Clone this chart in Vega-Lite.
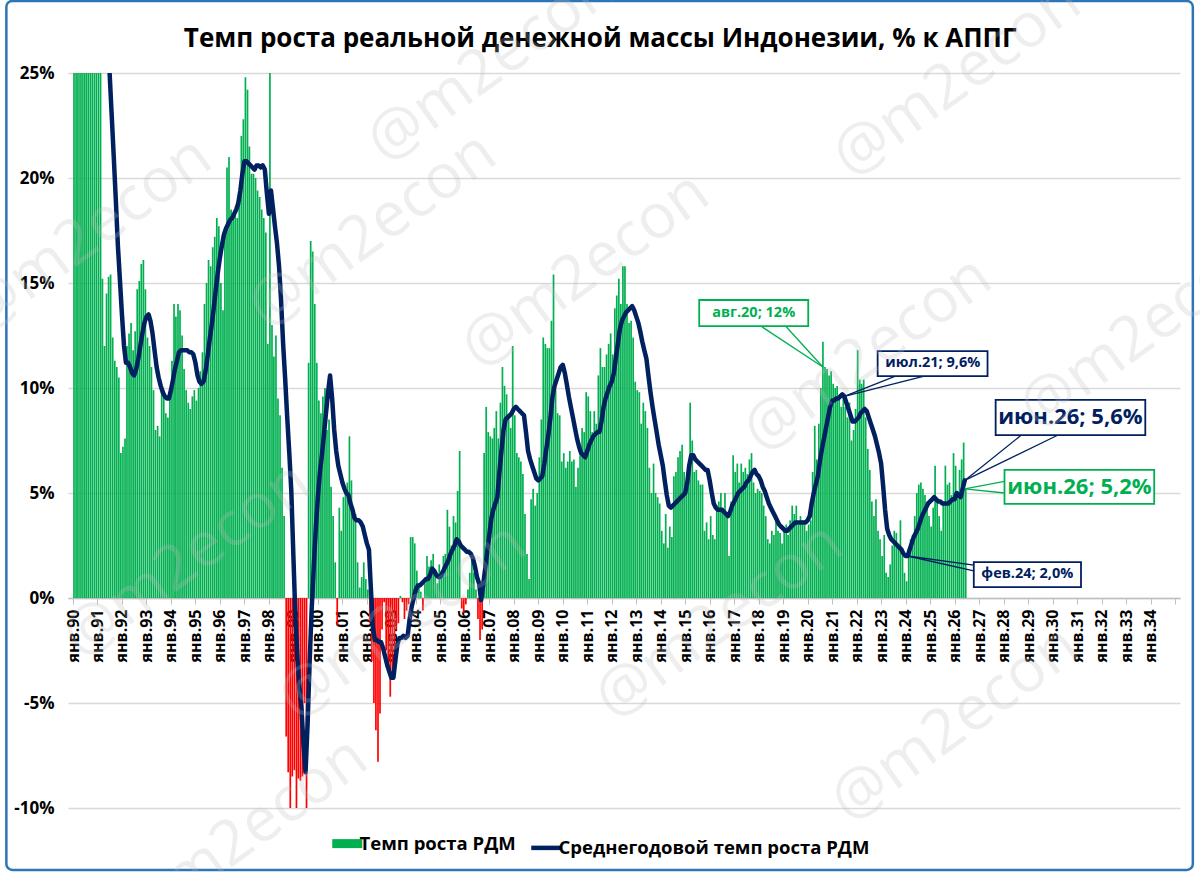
{
  "$schema": "https://vega.github.io/schema/vega-lite/v6.json",
  "width": 1112,
  "height": 735,
  "autosize": {"type": "none"},
  "padding": {"left": 68, "top": 73, "right": 20, "bottom": 64},
  "background": "white",
  "datasets": {
    "rdm": [
      {"d":"1990-01","b":38,"l":45},{"d":"1990-02","b":42,"l":45},{"d":"1990-03","b":36,"l":44},{"d":"1990-04","b":45,"l":43},{"d":"1990-05","b":40,"l":42},{"d":"1990-06","b":47,"l":41},
      {"d":"1990-07","b":43,"l":40},{"d":"1990-08","b":39,"l":39},{"d":"1990-09","b":44,"l":38},{"d":"1990-10","b":41,"l":37},{"d":"1990-11","b":37,"l":36},{"d":"1990-12","b":35,"l":34.5},
      {"d":"1991-01","b":33,"l":33},{"d":"1991-02","b":30,"l":32},{"d":"1991-03","b":15.2,"l":30.5},{"d":"1991-04","b":12.0,"l":29},{"d":"1991-05","b":14.5,"l":27.5},{"d":"1991-06","b":15.3,"l":26},
      {"d":"1991-07","b":15.4,"l":25},{"d":"1991-08","b":12.4,"l":23},{"d":"1991-09","b":11.3,"l":21},{"d":"1991-10","b":11.0,"l":19},{"d":"1991-11","b":10.5,"l":16.8},{"d":"1991-12","b":6.9,"l":15.2},
      {"d":"1992-01","b":7.2,"l":13.5},{"d":"1992-02","b":7.6,"l":12.0},{"d":"1992-03","b":12.0,"l":11.2},{"d":"1992-04","b":12.6,"l":11.2},{"d":"1992-05","b":13.1,"l":11.0},{"d":"1992-06","b":11.8,"l":10.7},
      {"d":"1992-07","b":12.7,"l":10.6},{"d":"1992-08","b":14.7,"l":10.9},{"d":"1992-09","b":15.1,"l":11.4},{"d":"1992-10","b":15.9,"l":12.0},{"d":"1992-11","b":16.1,"l":12.6},{"d":"1992-12","b":14.7,"l":13.1},
      {"d":"1993-01","b":12.4,"l":13.4},{"d":"1993-02","b":12.0,"l":13.5},{"d":"1993-03","b":11.0,"l":13.2},{"d":"1993-04","b":9.9,"l":12.6},{"d":"1993-05","b":8.0,"l":11.8},{"d":"1993-06","b":8.2,"l":11.0},
      {"d":"1993-07","b":7.7,"l":10.5},{"d":"1993-08","b":10.0,"l":10.1},{"d":"1993-09","b":9.9,"l":9.8},{"d":"1993-10","b":8.8,"l":9.6},{"d":"1993-11","b":8.6,"l":9.5},{"d":"1993-12","b":9.5,"l":9.5},
      {"d":"1994-01","b":11.3,"l":9.9},{"d":"1994-02","b":14.0,"l":10.4},{"d":"1994-03","b":13.4,"l":10.9},{"d":"1994-04","b":14.0,"l":11.3},{"d":"1994-05","b":13.7,"l":11.7},{"d":"1994-06","b":12.5,"l":11.8},
      {"d":"1994-07","b":10.9,"l":11.8},{"d":"1994-08","b":9.9,"l":11.8},{"d":"1994-09","b":9.3,"l":11.8},{"d":"1994-10","b":9.0,"l":11.7},{"d":"1994-11","b":9.6,"l":11.7},{"d":"1994-12","b":9.9,"l":11.6},
      {"d":"1995-01","b":9.4,"l":11.2},{"d":"1995-02","b":10.0,"l":10.6},{"d":"1995-03","b":10.8,"l":10.3},{"d":"1995-04","b":11.7,"l":10.2},{"d":"1995-05","b":14.0,"l":10.3},{"d":"1995-06","b":15.0,"l":10.8},
      {"d":"1995-07","b":16.1,"l":11.5},{"d":"1995-08","b":15.8,"l":12.3},{"d":"1995-09","b":16.7,"l":13.0},{"d":"1995-10","b":17.2,"l":13.8},{"d":"1995-11","b":18.1,"l":14.7},{"d":"1995-12","b":17.7,"l":15.5},
      {"d":"1996-01","b":15.0,"l":16.2},{"d":"1996-02","b":13.7,"l":16.8},{"d":"1996-03","b":17.5,"l":17.3},{"d":"1996-04","b":20.5,"l":17.6},{"d":"1996-05","b":21.0,"l":17.8},{"d":"1996-06","b":18.5,"l":18.0},
      {"d":"1996-07","b":18.1,"l":18.1},{"d":"1996-08","b":18.3,"l":18.3},{"d":"1996-09","b":18.1,"l":18.5},{"d":"1996-10","b":19.4,"l":18.8},{"d":"1996-11","b":22.0,"l":19.4},{"d":"1996-12","b":22.8,"l":20.2},
      {"d":"1997-01","b":24.8,"l":20.8},{"d":"1997-02","b":24.2,"l":20.8},{"d":"1997-03","b":21.5,"l":20.7},{"d":"1997-04","b":20.2,"l":20.6},{"d":"1997-05","b":20.2,"l":20.5},{"d":"1997-06","b":20.0,"l":20.4},
      {"d":"1997-07","b":19.4,"l":20.6},{"d":"1997-08","b":19.1,"l":20.6},{"d":"1997-09","b":18.5,"l":20.5},{"d":"1997-10","b":18.1,"l":20.6},{"d":"1997-11","b":17.4,"l":20.4},{"d":"1997-12","b":12.1,"l":19.3},
      {"d":"1998-01","b":25.5,"l":18.3},{"d":"1998-02","b":13.0,"l":19.4},{"d":"1998-03","b":11.5,"l":18.6},{"d":"1998-04","b":12.5,"l":17.7},{"d":"1998-05","b":9.5,"l":16.9},{"d":"1998-06","b":8.7,"l":15.8},
      {"d":"1998-07","b":6.2,"l":14.2},{"d":"1998-08","b":3.9,"l":12.1},{"d":"1998-09","b":-6.6,"l":10.4},{"d":"1998-10","b":-8.3,"l":8.6},{"d":"1998-11","b":-12,"l":6.9},{"d":"1998-12","b":-8.5,"l":5.1},
      {"d":"1999-01","b":-8.2,"l":2.0},{"d":"1999-02","b":-13,"l":-1.0},{"d":"1999-03","b":-8.6,"l":-2.8},{"d":"1999-04","b":-8.7,"l":-4.3},{"d":"1999-05","b":-8.5,"l":-5.2},{"d":"1999-06","b":-5.0,"l":-7.0},
      {"d":"1999-07","b":-13,"l":-8.3},{"d":"1999-08","b":11.2,"l":-6.0},{"d":"1999-09","b":17.0,"l":-3.0},{"d":"1999-10","b":16.5,"l":-0.5},{"d":"1999-11","b":14.0,"l":1.5},{"d":"1999-12","b":11.2,"l":3.3},
      {"d":"2000-01","b":9.4,"l":4.8},{"d":"2000-02","b":8.8,"l":6.0},{"d":"2000-03","b":9.6,"l":6.8},{"d":"2000-04","b":10.0,"l":7.8},{"d":"2000-05","b":8.0,"l":8.8},{"d":"2000-06","b":8.5,"l":9.8},
      {"d":"2000-07","b":5.3,"l":10.6},{"d":"2000-08","b":3.9,"l":9.5},{"d":"2000-09","b":1.7,"l":8.0},{"d":"2000-10","b":-1.3,"l":7.0},{"d":"2000-11","b":4.3,"l":6.3},{"d":"2000-12","b":3.2,"l":5.9},
      {"d":"2001-01","b":4.8,"l":5.5},{"d":"2001-02","b":5.1,"l":5.2},{"d":"2001-03","b":5.5,"l":5.0},{"d":"2001-04","b":7.7,"l":4.9},{"d":"2001-05","b":5.6,"l":4.5},{"d":"2001-06","b":4.2,"l":4.2},
      {"d":"2001-07","b":4.0,"l":3.8},{"d":"2001-08","b":1.7,"l":3.7},{"d":"2001-09","b":0.5,"l":3.7},{"d":"2001-10","b":1.0,"l":3.6},{"d":"2001-11","b":1.7,"l":3.4},{"d":"2001-12","b":0.9,"l":3.0},
      {"d":"2002-01","b":0.4,"l":2.6},{"d":"2002-02","b":-1.2,"l":2.3},{"d":"2002-03","b":-3.0,"l":0.5},{"d":"2002-04","b":-5.0,"l":-1.4},{"d":"2002-05","b":-6.3,"l":-2.0},{"d":"2002-06","b":-7.8,"l":-2.0},
      {"d":"2002-07","b":-5.5,"l":-2.1},{"d":"2002-08","b":-1.5,"l":-2.1},{"d":"2002-09","b":-0.2,"l":-2.4},{"d":"2002-10","b":-2.5,"l":-2.8},{"d":"2002-11","b":-3.3,"l":-3.2},{"d":"2002-12","b":-4.7,"l":-3.5},
      {"d":"2003-01","b":-3.9,"l":-3.8},{"d":"2003-02","b":-3.0,"l":-3.8},{"d":"2003-03","b":-1.5,"l":-3.0},{"d":"2003-04","b":-1.2,"l":-2.2},{"d":"2003-05","b":0.1,"l":-1.9},{"d":"2003-06","b":-0.2,"l":-1.9},
      {"d":"2003-07","b":-1.0,"l":-1.8},{"d":"2003-08","b":-0.6,"l":-1.9},{"d":"2003-09","b":-0.3,"l":-1.8},{"d":"2003-10","b":2.9,"l":-1.0},{"d":"2003-11","b":2.9,"l":-0.4},{"d":"2003-12","b":2.6,"l":0.0},
      {"d":"2004-01","b":1.3,"l":0.4},{"d":"2004-02","b":0.7,"l":0.6},{"d":"2004-03","b":0.3,"l":0.6},{"d":"2004-04","b":-0.6,"l":0.7},{"d":"2004-05","b":0.7,"l":0.8},{"d":"2004-06","b":2.0,"l":0.9},
      {"d":"2004-07","b":1.5,"l":0.9},{"d":"2004-08","b":1.8,"l":1.1},{"d":"2004-09","b":2.1,"l":1.4},{"d":"2004-10","b":1.3,"l":1.3},{"d":"2004-11","b":0.7,"l":1.1},{"d":"2004-12","b":1.6,"l":1.0},
      {"d":"2005-01","b":1.3,"l":1.0},{"d":"2005-02","b":2.0,"l":1.2},{"d":"2005-03","b":2.1,"l":1.4},{"d":"2005-04","b":4.2,"l":1.6},{"d":"2005-05","b":3.4,"l":1.8},{"d":"2005-06","b":2.5,"l":2.1},
      {"d":"2005-07","b":3.9,"l":2.3},{"d":"2005-08","b":3.6,"l":2.5},{"d":"2005-09","b":5.1,"l":2.8},{"d":"2005-10","b":7.0,"l":2.7},{"d":"2005-11","b":-0.5,"l":2.5},{"d":"2005-12","b":-0.7,"l":2.4},
      {"d":"2006-01","b":-0.3,"l":2.3},{"d":"2006-02","b":0.4,"l":2.2},{"d":"2006-03","b":1.2,"l":2.2},{"d":"2006-04","b":2.0,"l":2.1},{"d":"2006-05","b":1.2,"l":1.9},{"d":"2006-06","b":0.4,"l":1.5},
      {"d":"2006-07","b":-1.0,"l":1.0},{"d":"2006-08","b":-2.0,"l":0.7},{"d":"2006-09","b":-1.5,"l":-0.1},{"d":"2006-10","b":6.9,"l":0.6},{"d":"2006-11","b":9.1,"l":1.4},{"d":"2006-12","b":7.9,"l":2.2},
      {"d":"2007-01","b":7.7,"l":3.0},{"d":"2007-02","b":7.6,"l":3.8},{"d":"2007-03","b":8.1,"l":4.2},{"d":"2007-04","b":8.9,"l":4.5},{"d":"2007-05","b":7.6,"l":4.8},{"d":"2007-06","b":9.3,"l":6.0},
      {"d":"2007-07","b":11.0,"l":7.0},{"d":"2007-08","b":10.1,"l":8.0},{"d":"2007-09","b":9.7,"l":8.5},{"d":"2007-10","b":8.7,"l":8.6},{"d":"2007-11","b":8.1,"l":8.7},{"d":"2007-12","b":12.0,"l":8.8},
      {"d":"2008-01","b":8.7,"l":9.0},{"d":"2008-02","b":6.9,"l":9.1},{"d":"2008-03","b":6.7,"l":9.0},{"d":"2008-04","b":6.5,"l":8.9},{"d":"2008-05","b":5.9,"l":8.8},{"d":"2008-06","b":4.0,"l":8.7},
      {"d":"2008-07","b":2.1,"l":7.9},{"d":"2008-08","b":0.9,"l":7.0},{"d":"2008-09","b":4.7,"l":6.6},{"d":"2008-10","b":5.2,"l":6.3},{"d":"2008-11","b":4.4,"l":6.0},{"d":"2008-12","b":5.0,"l":5.7},
      {"d":"2009-01","b":6.7,"l":5.6},{"d":"2009-02","b":8.5,"l":5.7},{"d":"2009-03","b":12.4,"l":5.8},{"d":"2009-04","b":12.1,"l":6.4},{"d":"2009-05","b":11.9,"l":7.1},{"d":"2009-06","b":11.9,"l":7.8},
      {"d":"2009-07","b":13.2,"l":8.6},{"d":"2009-08","b":15.4,"l":9.6},{"d":"2009-09","b":9.9,"l":10.1},{"d":"2009-10","b":8.8,"l":10.4},{"d":"2009-11","b":8.7,"l":10.7},{"d":"2009-12","b":6.5,"l":11.0},
      {"d":"2010-01","b":6.9,"l":11.1},{"d":"2010-02","b":6.2,"l":10.7},{"d":"2010-03","b":6.5,"l":10.2},{"d":"2010-04","b":7.0,"l":9.6},{"d":"2010-05","b":6.5,"l":9.1},{"d":"2010-06","b":6.6,"l":8.6},
      {"d":"2010-07","b":5.3,"l":8.1},{"d":"2010-08","b":6.2,"l":7.6},{"d":"2010-09","b":6.8,"l":7.2},{"d":"2010-10","b":8.1,"l":6.9},{"d":"2010-11","b":7.9,"l":6.8},{"d":"2010-12","b":9.8,"l":6.7},
      {"d":"2011-01","b":9.6,"l":7.0},{"d":"2011-02","b":8.9,"l":7.3},{"d":"2011-03","b":7.9,"l":7.5},{"d":"2011-04","b":8.9,"l":7.7},{"d":"2011-05","b":8.3,"l":7.8},{"d":"2011-06","b":10.6,"l":7.9},
      {"d":"2011-07","b":11.9,"l":7.9},{"d":"2011-08","b":11.0,"l":8.4},{"d":"2011-09","b":11.0,"l":9.1},{"d":"2011-10","b":11.6,"l":9.5},{"d":"2011-11","b":12.1,"l":9.8},{"d":"2011-12","b":12.6,"l":10.1},
      {"d":"2012-01","b":11.6,"l":10.3},{"d":"2012-02","b":13.8,"l":10.7},{"d":"2012-03","b":14.4,"l":11.4},{"d":"2012-04","b":15.2,"l":12.1},{"d":"2012-05","b":14.0,"l":12.8},{"d":"2012-06","b":15.8,"l":13.2},
      {"d":"2012-07","b":15.8,"l":13.4},{"d":"2012-08","b":14.0,"l":13.6},{"d":"2012-09","b":13.1,"l":13.7},{"d":"2012-10","b":13.2,"l":13.8},{"d":"2012-11","b":12.4,"l":13.9},{"d":"2012-12","b":10.3,"l":13.7},
      {"d":"2013-01","b":9.9,"l":13.4},{"d":"2013-02","b":9.8,"l":13.1},{"d":"2013-03","b":8.3,"l":12.7},{"d":"2013-04","b":9.3,"l":12.2},{"d":"2013-05","b":8.9,"l":11.8},{"d":"2013-06","b":8.1,"l":11.4},
      {"d":"2013-07","b":6.2,"l":10.6},{"d":"2013-08","b":5.0,"l":9.8},{"d":"2013-09","b":6.4,"l":9.1},{"d":"2013-10","b":5.0,"l":8.5},{"d":"2013-11","b":4.8,"l":7.9},{"d":"2013-12","b":4.5,"l":7.3},
      {"d":"2014-01","b":3.2,"l":6.8},{"d":"2014-02","b":2.6,"l":6.3},{"d":"2014-03","b":4.0,"l":5.6},{"d":"2014-04","b":2.4,"l":4.9},{"d":"2014-05","b":3.4,"l":4.4},{"d":"2014-06","b":2.9,"l":4.3},
      {"d":"2014-07","b":5.8,"l":4.4},{"d":"2014-08","b":6.0,"l":4.5},{"d":"2014-09","b":6.7,"l":4.6},{"d":"2014-10","b":7.0,"l":4.7},{"d":"2014-11","b":7.3,"l":4.8},{"d":"2014-12","b":6.0,"l":4.9},
      {"d":"2015-01","b":5.0,"l":5.0},{"d":"2015-02","b":5.3,"l":5.5},{"d":"2015-03","b":9.3,"l":6.3},{"d":"2015-04","b":7.5,"l":6.8},{"d":"2015-05","b":6.0,"l":6.8},{"d":"2015-06","b":6.1,"l":6.6},
      {"d":"2015-07","b":5.6,"l":6.5},{"d":"2015-08","b":5.4,"l":6.4},{"d":"2015-09","b":5.4,"l":6.3},{"d":"2015-10","b":3.2,"l":6.2},{"d":"2015-11","b":3.6,"l":6.1},{"d":"2015-12","b":2.8,"l":6.1},
      {"d":"2016-01","b":3.9,"l":5.6},{"d":"2016-02","b":3.0,"l":5.0},{"d":"2016-03","b":2.8,"l":4.5},{"d":"2016-04","b":4.4,"l":4.3},{"d":"2016-05","b":4.6,"l":4.2},{"d":"2016-06","b":5.0,"l":4.2},
      {"d":"2016-07","b":4.3,"l":4.2},{"d":"2016-08","b":5.0,"l":4.1},{"d":"2016-09","b":3.9,"l":4.0},{"d":"2016-10","b":2.0,"l":3.9},{"d":"2016-11","b":4.6,"l":4.1},{"d":"2016-12","b":6.8,"l":4.4},
      {"d":"2017-01","b":6.0,"l":4.6},{"d":"2017-02","b":6.4,"l":4.8},{"d":"2017-03","b":5.5,"l":5.0},{"d":"2017-04","b":6.4,"l":5.1},{"d":"2017-05","b":6.0,"l":5.2},{"d":"2017-06","b":6.2,"l":5.3},
      {"d":"2017-07","b":5.9,"l":5.5},{"d":"2017-08","b":6.6,"l":5.6},{"d":"2017-09","b":6.9,"l":5.8},{"d":"2017-10","b":5.5,"l":6.0},{"d":"2017-11","b":5.0,"l":6.1},{"d":"2017-12","b":5.2,"l":5.9},
      {"d":"2018-01","b":5.1,"l":5.8},{"d":"2018-02","b":5.0,"l":5.6},{"d":"2018-03","b":4.4,"l":5.3},{"d":"2018-04","b":3.9,"l":5.1},{"d":"2018-05","b":2.8,"l":4.8},{"d":"2018-06","b":2.6,"l":4.5},
      {"d":"2018-07","b":3.2,"l":4.3},{"d":"2018-08","b":3.0,"l":4.1},{"d":"2018-09","b":3.9,"l":3.9},{"d":"2018-10","b":3.2,"l":3.7},{"d":"2018-11","b":3.1,"l":3.5},{"d":"2018-12","b":2.6,"l":3.4},
      {"d":"2019-01","b":3.2,"l":3.3},{"d":"2019-02","b":3.5,"l":3.2},{"d":"2019-03","b":3.0,"l":3.2},{"d":"2019-04","b":3.7,"l":3.3},{"d":"2019-05","b":4.4,"l":3.4},{"d":"2019-06","b":4.0,"l":3.5},
      {"d":"2019-07","b":4.4,"l":3.6},{"d":"2019-08","b":3.5,"l":3.6},{"d":"2019-09","b":3.9,"l":3.6},{"d":"2019-10","b":3.7,"l":3.6},{"d":"2019-11","b":3.5,"l":3.6},{"d":"2019-12","b":3.2,"l":3.6},
      {"d":"2020-01","b":3.5,"l":3.7},{"d":"2020-02","b":3.7,"l":3.9},{"d":"2020-03","b":6.0,"l":4.5},{"d":"2020-04","b":8.2,"l":5.0},{"d":"2020-05","b":6.6,"l":5.4},{"d":"2020-06","b":8.3,"l":5.8},
      {"d":"2020-07","b":10.0,"l":6.5},{"d":"2020-08","b":12.2,"l":7.1},{"d":"2020-09","b":11.0,"l":7.6},{"d":"2020-10","b":10.9,"l":8.1},{"d":"2020-11","b":10.6,"l":8.6},{"d":"2020-12","b":10.8,"l":9.1},
      {"d":"2021-01","b":10.2,"l":9.4},{"d":"2021-02","b":10.0,"l":9.4},{"d":"2021-03","b":10.1,"l":9.5},{"d":"2021-04","b":9.6,"l":9.5},{"d":"2021-05","b":9.1,"l":9.6},{"d":"2021-06","b":9.6,"l":9.7},
      {"d":"2021-07","b":9.1,"l":9.6},{"d":"2021-08","b":8.6,"l":9.3},{"d":"2021-09","b":9.3,"l":9.0},{"d":"2021-10","b":7.5,"l":8.7},{"d":"2021-11","b":8.0,"l":8.4},{"d":"2021-12","b":9.0,"l":8.4},
      {"d":"2022-01","b":11.8,"l":8.5},{"d":"2022-02","b":10.4,"l":8.6},{"d":"2022-03","b":10.2,"l":8.8},{"d":"2022-04","b":10.4,"l":8.9},{"d":"2022-05","b":8.6,"l":9.0},{"d":"2022-06","b":7.1,"l":8.9},
      {"d":"2022-07","b":6.1,"l":8.6},{"d":"2022-08","b":4.6,"l":8.3},{"d":"2022-09","b":3.9,"l":8.0},{"d":"2022-10","b":4.7,"l":7.7},{"d":"2022-11","b":3.2,"l":7.3},{"d":"2022-12","b":2.8,"l":6.9},
      {"d":"2023-01","b":2.0,"l":6.4},{"d":"2023-02","b":3.0,"l":5.3},{"d":"2023-03","b":1.2,"l":4.2},{"d":"2023-04","b":1.0,"l":3.3},{"d":"2023-05","b":1.6,"l":3.0},{"d":"2023-06","b":2.5,"l":2.8},
      {"d":"2023-07","b":3.2,"l":2.7},{"d":"2023-08","b":3.1,"l":2.6},{"d":"2023-09","b":2.5,"l":2.5},{"d":"2023-10","b":3.7,"l":2.4},{"d":"2023-11","b":2.0,"l":2.3},{"d":"2023-12","b":1.2,"l":2.1},
      {"d":"2024-01","b":0.8,"l":2.0},{"d":"2024-02","b":2.0,"l":2.0},{"d":"2024-03","b":2.8,"l":2.3},{"d":"2024-04","b":3.0,"l":2.6},{"d":"2024-05","b":3.9,"l":2.9},{"d":"2024-06","b":5.0,"l":3.1},
      {"d":"2024-07","b":5.4,"l":3.3},{"d":"2024-08","b":5.5,"l":3.6},{"d":"2024-09","b":5.2,"l":3.9},{"d":"2024-10","b":4.9,"l":4.1},{"d":"2024-11","b":4.6,"l":4.3},{"d":"2024-12","b":3.9,"l":4.5},
      {"d":"2025-01","b":3.4,"l":4.6},{"d":"2025-02","b":4.3,"l":4.7},{"d":"2025-03","b":6.3,"l":4.8},{"d":"2025-04","b":4.6,"l":4.7},{"d":"2025-05","b":3.9,"l":4.6},{"d":"2025-06","b":3.2,"l":4.6},
      {"d":"2025-07","b":4.6,"l":4.5},{"d":"2025-08","b":6.3,"l":4.5},{"d":"2025-09","b":5.4,"l":4.5},{"d":"2025-10","b":5.5,"l":4.5},{"d":"2025-11","b":4.9,"l":4.6},{"d":"2025-12","b":6.9,"l":4.7},
      {"d":"2026-01","b":6.3,"l":4.7},{"d":"2026-02","b":4.9,"l":5.0},{"d":"2026-03","b":6.1,"l":4.9},{"d":"2026-04","b":6.6,"l":4.8},{"d":"2026-05","b":7.4,"l":5.2},{"d":"2026-06","b":5.2,"l":5.6}
    ],
    "callouts": [
      {"t":"авг.20; 12%","k":"g","lvl":"s","x1":"2015-07-29","x2":"2020-01-10","y1":14.19,"y2":12.95,"tx":"2017-10-18","ty":13.57,"ax":"2018-02-01","ay":12.95,"bx":"2019-02-05","by":12.95,"px":"2020-08-15","py":11.0},
      {"t":"июл.21; 9,6%","k":"n","lvl":"s","x1":"2022-11-10","x2":"2027-05-07","y1":11.76,"y2":10.57,"tx":"2025-02-10","ty":11.17,"ax":"2023-08-03","ay":10.57,"bx":"2024-10-05","by":10.57,"px":"2021-07-01","py":9.6},
      {"t":"июн.26; 5,6%","k":"n","lvl":"b","x1":"2027-09-05","x2":"2033-10-15","y1":9.43,"y2":7.76,"tx":"2030-09-24","ty":8.6,"ax":"2028-09-23","ay":7.76,"bx":"2030-03-24","by":7.76,"px":"2026-06-01","py":5.6},
      {"t":"июн.26; 5,2%","k":"g","lvl":"b","x1":"2028-01-15","x2":"2034-02-25","y1":6.1,"y2":4.48,"tx":"2031-02-06","ty":5.29,"ax":"2028-01-15","ay":5.55,"bx":"2028-01-15","by":5.0,"px":"2026-06-01","py":5.2},
      {"t":"фев.24; 2,0%","k":"n","lvl":"s","x1":"2026-10-14","x2":"2031-03-01","y1":1.71,"y2":0.52,"tx":"2028-12-20","ty":1.12,"ax":"2026-10-14","ay":1.57,"bx":"2026-10-14","by":1.29,"px":"2024-02-01","py":2.0}
    ],
    "marks": [
      {"w":"@m2econ","x":"1990-08-10","y":17.3},
      {"w":"@m2econ","x":"2002-03-21","y":17.5},
      {"w":"@m2econ","x":"2010-12-03","y":15.6},
      {"w":"@m2econ","x":"2022-06-16","y":11.6},
      {"w":"@m2econ","x":"2033-09-16","y":12.7},
      {"w":"@m2econ","x":"2007-01-29","y":25.4},
      {"w":"@m2econ","x":"2026-02-06","y":24.7},
      {"w":"@m2econ","x":"1994-08-25","y":1.8},
      {"w":"@m2econ","x":"2003-06-08","y":-1.1},
      {"w":"@m2econ","x":"2016-05-20","y":-1.1},
      {"w":"@m2econ","x":"2026-01-07","y":-6.0},
      {"w":"@m2econ","x":"1996-12-16","y":-11.3}
    ]
  },
  "layer": [
    {
      "data": {"values": [{}]},
      "mark": {"type": "rect", "fill": "transparent", "stroke": "#2E75B6", "strokeWidth": 2.5, "cornerRadius": 6, "clip": false},
      "encoding": {
        "x": {"datum": {"year": 1987, "month": 4, "date": 13, "utc": true}, "type": "temporal", "title": null},
        "x2": {"datum": {"year": 2035, "month": 9, "date": 24, "utc": true}},
        "y": {"datum": 28.43, "type": "quantitative", "title": null},
        "y2": {"datum": -12.95}
      }
    },
    {
      "data": {"values": [{}]},
      "mark": {
        "type": "text",
        "text": "Темп роста реальной денежной массы Индонезии, % к АППГ",
        "font": "Open Sans",
        "fontSize": 26,
        "fontWeight": "bold",
        "color": "#000000",
        "align": "center",
        "baseline": "alphabetic",
        "clip": false
      },
      "encoding": {
        "x": {"datum": {"year": 2011, "month": 7, "date": 13, "utc": true}, "type": "temporal", "title": null},
        "y": {"datum": 26.24, "type": "quantitative", "title": null}
      }
    },
    {
      "data": {"name": "rdm"},
      "transform": [{"filter": "datum.b >= 0"}],
      "mark": {"type": "bar", "width": 1.7, "xOffset": 1, "clip": true},
      "encoding": {
        "x": {
          "field": "d",
          "type": "temporal",
          "title": null,
          "scale": {"type": "utc", "domain": [{"year": 1990, "month": 1, "date": 1, "utc": true}, {"year": 2035, "month": 1, "date": 1, "utc": true}]},
          "axis": {
            "orient": "bottom",
            "offset": -210,
            "tickCount": {"interval": "year", "step": 1},
            "labelExpr": "utcyear(datum.value) >= 2035 ? '' : 'янв.' + utcFormat(datum.value, '%y')",
            "labelAngle": -90,
            "labelFont": "Open Sans",
            "labelFontSize": 16,
            "labelFontWeight": "bold",
            "labelColor": "#000000",
            "labelPadding": 5,
            "labelOverlap": false,
            "labelFlush": false,
            "labelBound": false,
            "grid": false,
            "domainColor": "#BFBFBF",
            "domainWidth": 1.3,
            "tickColor": "#BFBFBF",
            "tickSize": 6
          }
        },
        "y": {
          "field": "b",
          "type": "quantitative",
          "title": null,
          "scale": {"domain": [-10, 25], "nice": false},
          "axis": {
            "values": [-10, -5, 0, 5, 10, 15, 20, 25],
            "labelExpr": "datum.value + '%'",
            "labelFont": "Open Sans",
            "labelFontSize": 17,
            "labelFontWeight": "bold",
            "labelColor": "#000000",
            "labelPadding": 14,
            "domain": false,
            "ticks": false,
            "grid": true,
            "gridColor": "#D9D9D9",
            "gridWidth": 1.3
          }
        },
        "color": {
          "datum": "Темп роста РДМ",
          "type": "nominal",
          "scale": {"domain": ["Темп роста РДМ", "Среднегодовой темп роста РДМ"], "range": ["#00B050", "#002060"]},
          "legend": {
            "title": null,
            "orient": "none",
            "legendX": 270,
            "legendY": 761,
            "direction": "horizontal",
            "symbolType": "stroke",
            "symbolSize": 900,
            "symbolStrokeWidth": 8,
            "labelFont": "Open Sans",
            "labelFontSize": 18.5,
            "labelFontWeight": "bold",
            "labelColor": "#000000",
            "labelLimit": 400,
            "labelOffset": 3,
            "columnPadding": 6,
            "encode": {
              "symbols": {
                "update": {
                  "strokeWidth": {"signal": "datum.index === 0 ? 9 : 4.5"},
                  "stroke": {"scale": "color", "field": "value"},
                  "fill": {"value": "transparent"}
                }
              }
            }
          }
        }
      }
    },
    {
      "data": {"name": "rdm"},
      "transform": [{"filter": "datum.b < 0"}],
      "mark": {"type": "bar", "width": 1.7, "xOffset": 1, "clip": true, "color": "#FF0000"},
      "encoding": {
        "x": {"field": "d", "type": "temporal", "title": null},
        "y": {"field": "b", "type": "quantitative", "title": null}
      }
    },
    {
      "data": {"name": "rdm"},
      "mark": {"type": "line", "strokeWidth": 4.5, "strokeJoin": "round", "strokeCap": "round", "clip": true},
      "encoding": {
        "x": {"field": "d", "type": "temporal", "title": null},
        "y": {"field": "l", "type": "quantitative", "title": null},
        "color": {"datum": "Среднегодовой темп роста РДМ", "type": "nominal"}
      }
    },
    {
      "data": {"name": "callouts"},
      "mark": {"type": "rule", "strokeWidth": 1.3},
      "encoding": {
        "x": {"field": "ax", "type": "temporal", "title": null},
        "y": {"field": "ay", "type": "quantitative", "title": null},
        "x2": {"field": "px"},
        "y2": {"field": "py"},
        "stroke": {"field": "k", "type": "nominal", "scale": {"domain": ["g", "n"], "range": ["#00B050", "#002060"]}, "legend": null}
      }
    },
    {
      "data": {"name": "callouts"},
      "mark": {"type": "rule", "strokeWidth": 1.3},
      "encoding": {
        "x": {"field": "bx", "type": "temporal", "title": null},
        "y": {"field": "by", "type": "quantitative", "title": null},
        "x2": {"field": "px"},
        "y2": {"field": "py"},
        "stroke": {"field": "k", "type": "nominal", "legend": null}
      }
    },
    {
      "data": {"name": "callouts"},
      "mark": {"type": "rect", "fill": "white", "strokeWidth": 1.8},
      "encoding": {
        "x": {"field": "x1", "type": "temporal", "title": null},
        "x2": {"field": "x2"},
        "y": {"field": "y1", "type": "quantitative", "title": null},
        "y2": {"field": "y2"},
        "stroke": {"field": "k", "type": "nominal", "legend": null}
      }
    },
    {
      "data": {"name": "callouts"},
      "transform": [{"filter": "datum.lvl == 's'"}],
      "mark": {"type": "text", "font": "Open Sans", "fontSize": 14.5, "fontWeight": "bold", "align": "center", "baseline": "middle"},
      "encoding": {
        "x": {"field": "tx", "type": "temporal", "title": null},
        "y": {"field": "ty", "type": "quantitative", "title": null},
        "text": {"field": "t"},
        "fill": {"field": "k", "type": "nominal", "scale": {"domain": ["g", "n"], "range": ["#00B050", "#002060"]}, "legend": null}
      }
    },
    {
      "data": {"name": "callouts"},
      "transform": [{"filter": "datum.lvl == 'b'"}],
      "mark": {"type": "text", "font": "Open Sans", "fontSize": 22, "fontWeight": "bold", "align": "center", "baseline": "middle"},
      "encoding": {
        "x": {"field": "tx", "type": "temporal", "title": null},
        "y": {"field": "ty", "type": "quantitative", "title": null},
        "text": {"field": "t"},
        "fill": {"field": "k", "type": "nominal", "legend": null}
      }
    },
    {
      "data": {"name": "marks"},
      "mark": {"type": "text", "angle": -36, "font": "Open Sans", "fontSize": 62, "color": "#BFBFBF", "opacity": 0.25, "clip": false},
      "encoding": {
        "x": {"field": "x", "type": "temporal", "title": null},
        "y": {"field": "y", "type": "quantitative", "title": null},
        "text": {"field": "w"}
      }
    }
  ],
  "config": {
    "view": {"stroke": null},
    "font": "Open Sans"
  }
}
